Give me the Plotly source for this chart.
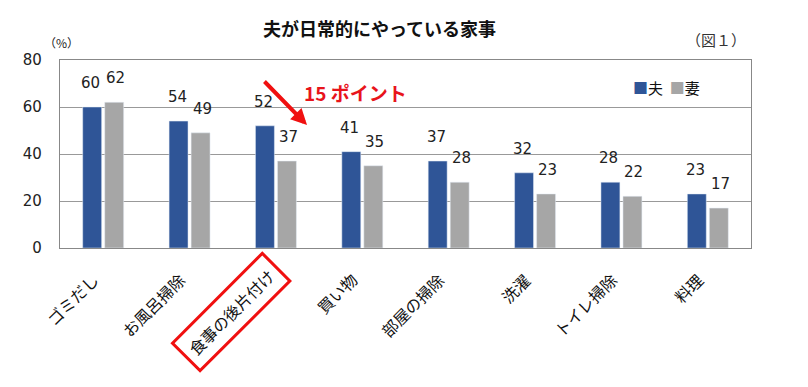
import plotly.graph_objects as go

categories = ["ゴミだし", "お風呂掃除", "食事の後片付け", "買い物", "部屋の掃除", "洗濯", "トイレ掃除", "料理"]
husband = [60, 54, 52, 41, 37, 32, 28, 23]
wife = [62, 49, 37, 35, 28, 23, 22, 17]
series_names = ["夫", "妻"]
y_ticks = [0, 20, 40, 60, 80]
highlight_index = 2
title_text = "夫が日常的にやっている家事"
fig_label = "（図１）"
unit_label = "（%）"
callout_text = "15 ポイント"

BLUE = "#2F5597"
GRAY = "#A6A6A6"
RED = "#F01010"
FONT = "DejaVu Sans, Noto Sans CJK JP"
JFONT = "Noto Sans CJK JP"

# page body has an 8px margin; figure placed at (8, 8)
OFF = 8
W, H = 808 - OFF, 387 - OFF
L, T = 60 - OFF, 60 - OFF
R = W - (751 - OFF)
B = H - (248 - OFF)
pw, ph = W - L - R, H - T - B

def px_x(p):  # screen pixel -> paper
    return (p - OFF - L) / pw

def px_y(p):
    return (H - B - (p - OFF)) / ph

xs = list(range(len(categories)))

fig = go.Figure()
fig.add_trace(go.Bar(x=xs, y=husband, name=series_names[0], marker_color=BLUE))
fig.add_trace(go.Bar(x=xs, y=wife, name=series_names[1], marker_color=GRAY))

ann = []
# value labels
for i in xs:
    for vals, sh in ((husband, -12.5), (wife, 12.5)):
        ann.append(dict(x=i, y=vals[i], xref="x", yref="y", text=str(vals[i]),
                        showarrow=False, xshift=sh, yshift=13, yanchor="bottom",
                        font=dict(family=FONT, size=15, color="#222")))
# category labels
for i, c in enumerate(categories):
    if i == highlight_index:
        ann.append(dict(x=i, y=0, xref="x", yref="y", text=c, textangle=-45,
                        showarrow=False, xanchor="right", yanchor="top",
                        xshift=16, yshift=-3,
                        bordercolor=RED, borderwidth=3, borderpad=6,
                        font=dict(family=JFONT, size=16, color="#111")))
    else:
        ann.append(dict(x=i, y=0, xref="x", yref="y", text=c, textangle=-45,
                        showarrow=False, xanchor="right", yanchor="top",
                        xshift=3, yshift=-17,
                        font=dict(family=JFONT, size=16, color="#111")))
# title
ann.append(dict(x=px_x(379), y=px_y(28), xref="paper", yref="paper", text="<b>" + title_text + "</b>",
                showarrow=False, xanchor="center", yanchor="middle",
                font=dict(family=JFONT, size=18, color="#111")))
ann.append(dict(x=px_x(684), y=px_y(40), xref="paper", yref="paper", text=fig_label,
                showarrow=False, xanchor="left", yanchor="middle",
                font=dict(family=JFONT, size=15, color="#333")))
ann.append(dict(x=px_x(42), y=px_y(42), xref="paper", yref="paper", text=unit_label,
                showarrow=False, xanchor="left", yanchor="middle",
                font=dict(family=JFONT, size=12, color="#222")))
# legend
ann.append(dict(x=px_x(631), y=px_y(87), xref="paper", yref="paper",
                text=f"<span style='color:{BLUE}'>■</span>{series_names[0]}  <span style='color:{GRAY}'>■</span>{series_names[1]}",
                showarrow=False, xanchor="left", yanchor="middle",
                font=dict(family=JFONT, size=15, color="#111")))
# callout
ann.append(dict(x=px_x(302), y=px_y(92), xref="paper", yref="paper", text="<b>" + callout_text + "</b>",
                showarrow=False, xanchor="left", yanchor="middle",
                font=dict(family=JFONT, size=19, color="#E8141B")))
ann.append(dict(x=px_x(307), y=px_y(125), xref="paper", yref="paper", text="",
                showarrow=True, ax=-44, ay=-45, arrowhead=2, arrowsize=0.8, arrowwidth=4,
                arrowcolor=RED, standoff=0))

fig.update_layout(
    width=W, height=H,
    margin=dict(l=L, r=R, t=T, b=B),
    paper_bgcolor="white", plot_bgcolor="white",
    barmode="group", bargap=0.49, bargroupgap=0.14,
    showlegend=False,
    annotations=ann,
    font=dict(family=FONT),
)
fig.update_xaxes(type="linear", range=[-0.5, len(categories) - 0.5], showticklabels=False,
                 showgrid=False, zeroline=False, showline=True, linecolor="#888", linewidth=1.3,
                 mirror=True, ticks="")
fig.update_yaxes(range=[0, 80], tickvals=y_ticks, showgrid=True, gridcolor="#999", gridwidth=1,
                 zeroline=False, showline=True, linecolor="#888", linewidth=1.3, mirror=True,
                 ticks="", ticklabelstandoff=14,
                 tickfont=dict(family=FONT, size=15, color="#222"))

fig.write_html("out.html")
